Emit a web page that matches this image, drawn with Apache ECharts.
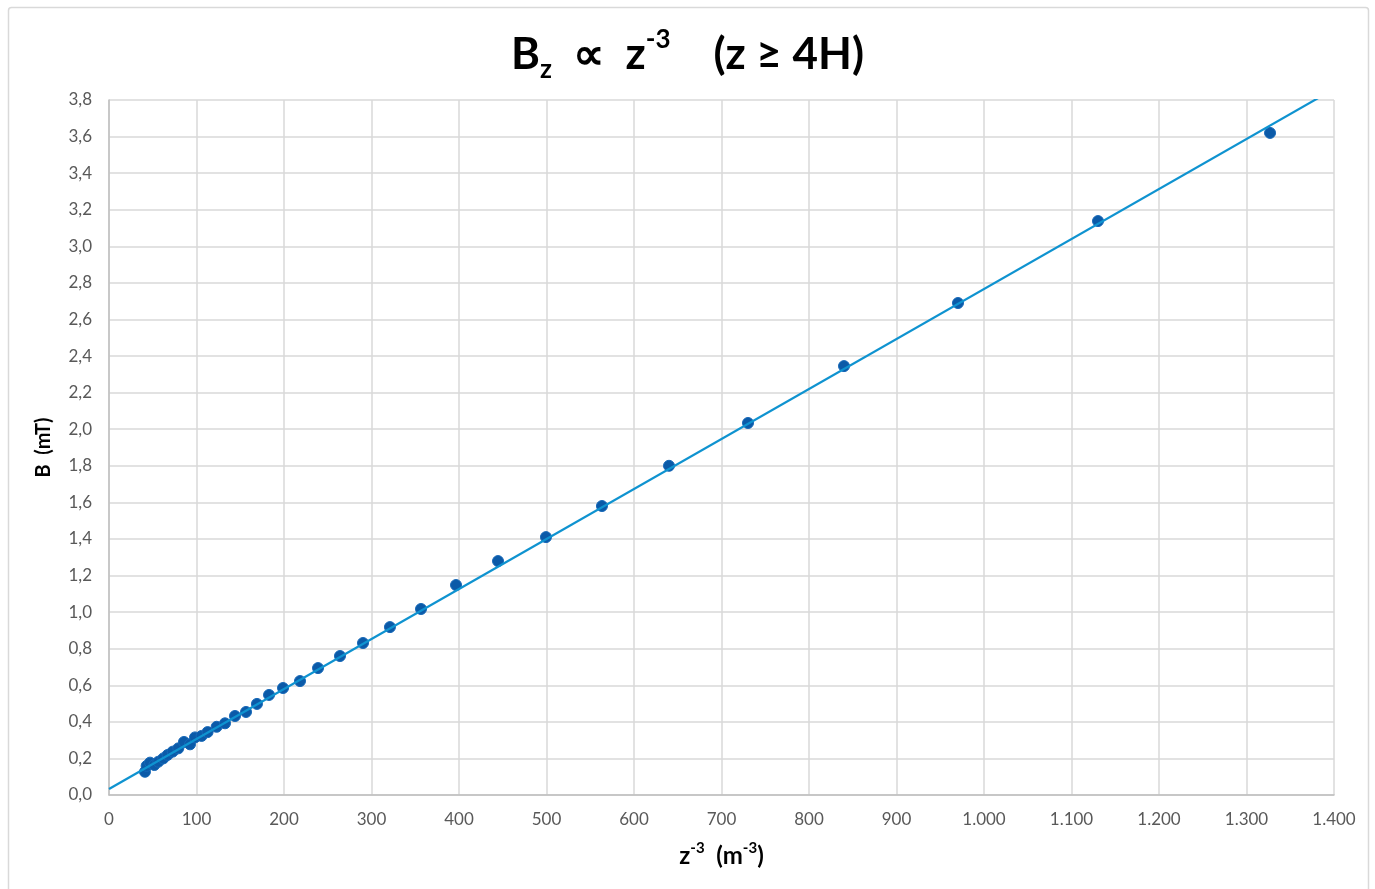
<!DOCTYPE html>
<html lang="es">
<head>
<meta charset="utf-8">
<style>
  html, body { margin: 0; padding: 0; width: 100%; height: 100%; overflow: hidden; background: #fff; }
</style>
<script src="https://cdn.jsdelivr.net/npm/echarts@6/dist/echarts.min.js"></script>
</head>
<body>
<div id="container" style="width:1375px;height:889px;"></div>
<script>
  // z^-3 (m^-3) and measured B (mT)
  var zInv3 = [41.1, 43, 46.9, 51.8, 56.4, 62, 67, 72.8, 79.2, 85.7, 92.6, 98.3, 105.8, 112.7, 123, 132.6,
               144, 156.6, 169.1, 182.9, 198.9, 218.3, 238.9, 264, 290.3, 321.1, 356.6, 396.6, 444.6, 499.4,
               563.4, 640, 730.3, 840, 970.3, 1130.3, 1326.9];
  var bField = [0.127, 0.159, 0.177, 0.164, 0.182, 0.2, 0.219, 0.237, 0.255, 0.29, 0.277, 0.315, 0.323, 0.344, 0.373, 0.392,
                0.432, 0.454, 0.498, 0.547, 0.585, 0.623, 0.694, 0.76, 0.831, 0.918, 1.017, 1.148, 1.279, 1.41,
                1.58, 1.80, 2.034, 2.345, 2.69, 3.138, 3.62];

  // linear trend line end points
  var trendX = [0, 1400];
  var trendY = [0.033, 3.86];

  var points = zInv3.map(function (x, i) { return [x, bField[i]]; });
  var trend = trendX.map(function (x, i) { return [x, trendY[i]]; });

  var chart = echarts.init(document.getElementById('container'), null, { renderer: 'canvas' });

  var font = 'Lato, "Open Sans", sans-serif';

  var option = {
    animation: false,
    backgroundColor: '#fff',
    graphic: [{
      type: 'rect',
      shape: { x: 8.5, y: 7.5, width: 1360, height: 890, r: 3 },
      style: { fill: 'none', stroke: '#d9d9d9', lineWidth: 1.5 },
      silent: true
    }],
    title: {
      text: 'B{sub|z}  ∝  z{sup|-3}    (z ≥ 4H)',
      left: 'center',
      top: 22,
      textStyle: {
        fontFamily: font,
        fontSize: 44,
        fontWeight: 'bold',
        color: '#000',
        lineHeight: 56,
        rich: {
          sub: { fontFamily: font, fontSize: 26, fontWeight: 'bold', color: '#000', lineHeight: 26, verticalAlign: 'bottom' },
          sup: { fontFamily: font, fontSize: 26, fontWeight: 'bold', color: '#000', lineHeight: 26, verticalAlign: 'top' }
        }
      }
    },
    grid: { left: 109, right: 41, top: 100, bottom: 94 },
    xAxis: {
      type: 'value',
      min: 0,
      max: 1400,
      interval: 100,
      name: 'z{sup|-3}  (m{sup|-3})',
      nameLocation: 'middle',
      nameGap: 46,
      nameTextStyle: {
        fontFamily: font, fontSize: 24, fontWeight: 'bold', color: '#000', lineHeight: 30,
        rich: { sup: { fontFamily: font, fontSize: 15, fontWeight: 'bold', color: '#000', lineHeight: 15, verticalAlign: 'top' } }
      },
      axisLine: { lineStyle: { color: '#bfbfbf', width: 1.5 } },
      axisTick: { show: false },
      splitLine: { lineStyle: { color: '#d9d9d9', width: 1.5 } },
      axisLabel: {
        fontFamily: font, fontSize: 17, color: '#595959', margin: 16,
        formatter: function (v) { return v >= 1000 ? Math.floor(v / 1000) + '.' + String(v % 1000).padStart(3, '0') : String(v); }
      }
    },
    yAxis: {
      type: 'value',
      min: 0,
      max: 3.8,
      interval: 0.2,
      name: 'B  (mT)',
      nameLocation: 'middle',
      nameRotate: 90,
      nameGap: 55,
      nameTextStyle: { fontFamily: font, fontSize: 20, fontWeight: 'bold', color: '#000' },
      axisLine: { show: true, lineStyle: { color: '#bfbfbf', width: 1.5 } },
      axisTick: { show: false },
      splitLine: { lineStyle: { color: '#d9d9d9', width: 1.5 } },
      axisLabel: {
        fontFamily: font, fontSize: 17, color: '#595959', margin: 17,
        formatter: function (v) { return v.toFixed(1).replace('.', ','); }
      }
    },
    series: [
      {
        name: 'B',
        type: 'scatter',
        data: points,
        symbol: 'circle',
        symbolSize: 11,
        itemStyle: { color: '#0b5aa8', borderColor: '#1668b8', borderWidth: 1, opacity: 1 },
        z: 2
      },
      {
        name: 'trend',
        type: 'line',
        data: trend,
        showSymbol: false,
        clip: true,
        lineStyle: { color: '#0f93d0', width: 2.2 },
        z: 3
      }
    ]
  };

  chart.setOption(option);
  window.addEventListener('resize', chart.resize);
</script>
</body>
</html>
